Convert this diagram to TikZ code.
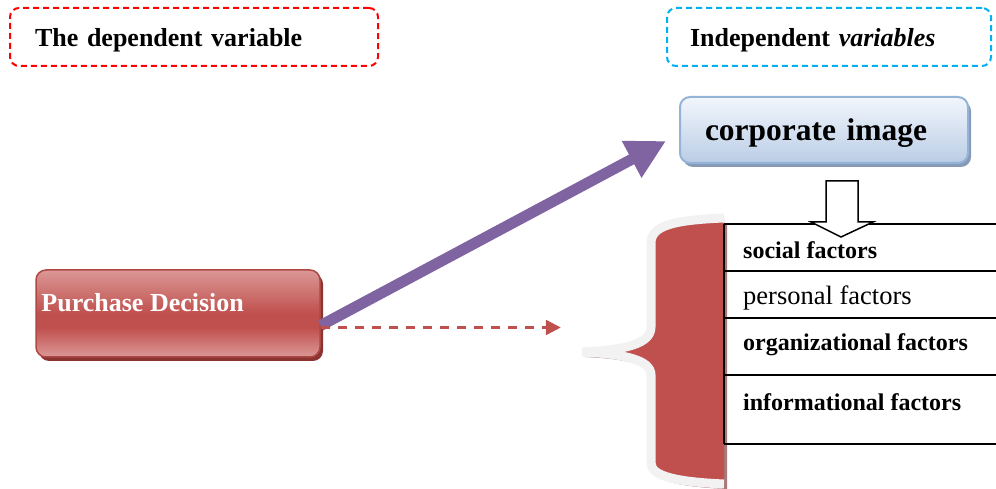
\documentclass[tikz,border=0pt]{standalone}
\usepackage{fontspec}
\setmainfont{Liberation Serif}
\usetikzlibrary{arrows.meta,calc,positioning,shadows}
\definecolor{hdrred}{RGB}{255,0,0}
\definecolor{hdrblue}{RGB}{0,176,240}
\definecolor{pdred}{RGB}{192,80,77}
\definecolor{pdlight}{RGB}{219,152,150}
\definecolor{pddark}{RGB}{140,52,50}
\definecolor{ciborder}{RGB}{149,179,215}
\definecolor{citop}{RGB}{242,246,252}
\definecolor{cibot}{RGB}{186,205,230}
\definecolor{cishadow}{RGB}{135,155,185}
\definecolor{arrpurple}{RGB}{128,100,162}
\definecolor{braceedge}{RGB}{242,242,242}
\definecolor{braceshadow}{RGB}{168,122,122}

% light-red-light band for the decision box
\pgfdeclareverticalshading{pdshade}{100bp}{color(0bp)=(pdlight); color(25bp)=(pdlight);
  color(42bp)=(pdred); color(50bp)=(pdred); color(75bp)=(pdlight); color(100bp)=(pdlight)}

% open outline of the curly brace (right side left open)
\newcommand{\bracecurve}{(724,271) .. controls (676,269) and (651,264) .. (651,246)
  -- (651,162) .. controls (651,145) and (625,139) .. (582,137)
  .. controls (625,135) and (651,129) .. (651,114)
  -- (651,26) .. controls (651,12) and (680,7) .. (724,5)}

\begin{document}
\begin{tikzpicture}[x=1pt,y=1pt,>=Stealth,
  hdrbox/.style={dashed,dash pattern=on 6pt off 4pt,line width=2pt,rounded corners=9pt,
    minimum height=58pt,align=left,text height=24pt,text depth=5pt,
    font=\fontsize{26}{31}\selectfont\bfseries},
  cibox/.style={draw=ciborder,line width=2pt,rounded corners=10pt,top color=citop,bottom color=cibot,
    minimum height=66pt,align=left,text height=28pt,text depth=7pt,
    font=\fontsize{31.5}{36}\selectfont\bfseries,
    drop shadow={shadow xshift=3pt,shadow yshift=-4pt,fill=cishadow,opacity=1}},
  pdbox/.style={draw=pdred!90!black,line width=1.5pt,rounded corners=10pt,shading=pdshade,
    drop shadow={shadow xshift=3pt,shadow yshift=-4pt,fill=pddark,opacity=1}},
  rowtext/.style={anchor=west,inner sep=0pt,font=\fontsize{24}{28}\selectfont\bfseries}]
  \useasboundingbox (0,0) rectangle (996,489);

  % headers
  \node[hdrbox,draw=hdrred,text width=318pt,inner xsep=25pt] (dep) at (194,452) {The dependent variable};
  \node[hdrbox,draw=hdrblue,text width=278pt,inner xsep=23pt] (indep) at (829,452) {Independent \textit{variables}};

  % boxes
  \node[cibox,text width=238pt,inner xsep=25pt] (ci) at (824,359) {corporate image};
  \node[pdbox,minimum width=284pt,minimum height=87pt] (pd) at (178,175.5) {};
  \node[anchor=west,inner sep=0pt,text=white,font=\fontsize{26}{31}\selectfont\bfseries]
    (pdtext) at ([xshift=6pt,yshift=11pt]pd.west) {Purchase Decision};

  % brace
  \begin{scope}[shift={(3,-5)}]
    \fill[braceshadow] \bracecurve -- cycle;
  \end{scope}
  \fill[pdred] \bracecurve -- cycle;
  \draw[braceedge,line width=9pt] \bracecurve;

  % factor table
  \foreach \ty in {265,218,171,114,45}
    \draw[line width=1.2pt] (724,\ty) -- (996,\ty);
  \draw[line width=1.2pt] (724,265) -- (724,45);
  \node[rowtext] (social) at (743,239) {social factors};
  \node[rowtext,font=\fontsize{26.5}{30}\selectfont] (personal) at (743,191) {personal factors};
  \node[rowtext] (org) at (743,144) {organizational factors};
  \node[rowtext] (info) at (743,87) {informational factors};

  % hollow arrow down into the table
  \draw[line width=1.5pt,fill=white] (826,308) -- (826,267) -- (811,267) -- (841,252)
    -- (873,267) -- (858,267) -- (858,308) -- cycle;

  % connectors
  \coordinate (pdout) at ([yshift=-12pt]pd.east);
  \draw[arrpurple,line width=11pt,-{Triangle[length=39pt,width=39pt]}]
    (pdout) -- ([xshift=-13pt,yshift=-11pt]ci.west);
  \coordinate (dashend) at ([xshift=240pt,yshift=-14pt]pd.east);
  \draw[pdred,line width=2.5pt,dash pattern=on 9pt off 8pt,-{Triangle[length=15pt,width=15pt]}]
    ([yshift=-14pt]pd.east) -- (dashend);
\end{tikzpicture}
\end{document}
